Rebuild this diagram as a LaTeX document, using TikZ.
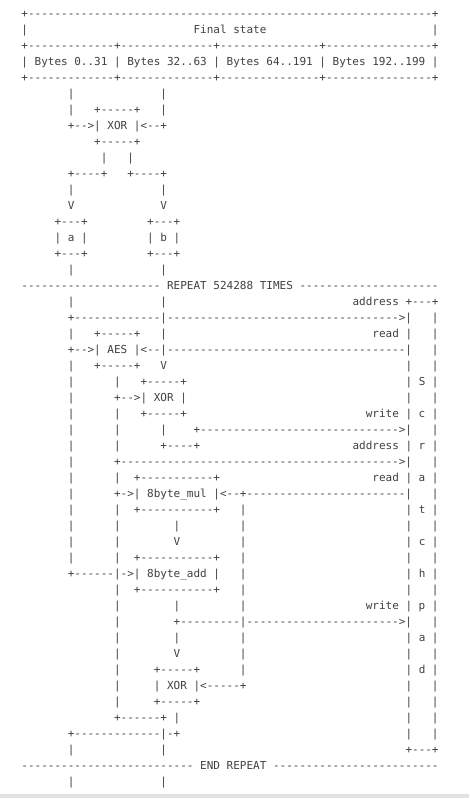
\documentclass[tikz,border=0pt]{standalone}
\usepackage{fontspec}
\setmonofont{DejaVu Sans Mono}
\usepackage{tikz}
\usepackage{xcolor}
\definecolor{asciigray}{RGB}{64, 64, 64}
\definecolor{framegray}{RGB}{226, 226, 226}

% runs of blanks and dashes, counted in characters
\newcommand{\sk}[1]{\hspace*{#1\fontdimen2\font}}
\ExplSyntaxOn
\NewDocumentCommand{\dl}{m}{\prg_replicate:nn{#1}{-}}
\ExplSyntaxOff

\tikzset{
  asciirow/.style={anchor=base west, inner sep=0pt, text=asciigray,
    font=\ttfamily\fontsize{11}{16}\selectfont\frenchspacing}
}

\begin{document}
\begin{tikzpicture}[x=1pt, y=-1pt]

  \useasboundingbox (0,0) rectangle (469,798);
  \fill[framegray] (0,794) rectangle (469,798);

  % Final state
  \node[asciirow] (r0) at (21.2,17.3) {+\dl{61}+};
  \node[asciirow] (r1) at (21.2,33.3) {|\sk{25}Final state\sk{25}|};
  \node[asciirow] (r2) at (21.2,49.3) {+\dl{13}+\dl{14}+\dl{15}+\dl{16}+};
  \node[asciirow] (r3) at (21.2,65.3) {| Bytes 0..31 | Bytes 32..63 | Bytes 64..191 | Bytes 192..199 |};
  \node[asciirow] (r4) at (21.2,81.3) {+\dl{13}+\dl{14}+\dl{15}+\dl{16}+};

  % XOR into a and b
  \node[asciirow] (r5) at (21.2,97.3) {\sk{7}|\sk{13}|};
  \node[asciirow] (r6) at (21.2,113.3) {\sk{7}|\sk{3}+\dl{5}+\sk{3}|};
  \node[asciirow] (r7) at (21.2,129.3) {\sk{7}+-->| XOR |<--+};
  \node[asciirow] (r8) at (21.2,145.3) {\sk{11}+\dl{5}+};
  \node[asciirow] (r9) at (21.2,161.3) {\sk{12}|\sk{3}|};
  \node[asciirow] (r10) at (21.2,177.3) {\sk{7}+\dl{4}+\sk{3}+\dl{4}+};
  \node[asciirow] (r11) at (21.2,193.3) {\sk{7}|\sk{13}|};
  \node[asciirow] (r12) at (21.2,209.3) {\sk{7}V\sk{13}V};
  \node[asciirow] (r13) at (21.2,225.3) {\sk{5}+---+\sk{9}+---+};
  \node[asciirow] (r14) at (21.2,241.3) {\sk{5}| a |\sk{9}| b |};
  \node[asciirow] (r15) at (21.2,257.3) {\sk{5}+---+\sk{9}+---+};
  \node[asciirow] (r16) at (21.2,273.3) {\sk{7}|\sk{13}|};

  % Loop body
  \node[asciirow] (r17) at (21.2,289.3) {\dl{21} REPEAT 524288 TIMES \dl{21}};
  \node[asciirow] (r18) at (21.2,305.3) {\sk{7}|\sk{13}|\sk{28}address +\dl{3}+};
  \node[asciirow] (r19) at (21.2,321.3) {\sk{7}+\dl{13}|\dl{35}>|\sk{3}|};
  \node[asciirow] (r20) at (21.2,337.3) {\sk{7}|\sk{3}+\dl{5}+\sk{3}|\sk{31}read |\sk{3}|};
  \node[asciirow] (r21) at (21.2,353.3) {\sk{7}+-->| AES |<--|\dl{36}|\sk{3}|};
  \node[asciirow] (r22) at (21.2,369.3) {\sk{7}|\sk{3}+\dl{5}+\sk{3}V\sk{36}|\sk{3}|};
  \node[asciirow] (r23) at (21.2,385.3) {\sk{7}|\sk{6}|\sk{3}+\dl{5}+\sk{33}| S |};
  \node[asciirow] (r24) at (21.2,401.3) {\sk{7}|\sk{6}+-->| XOR |\sk{33}|\sk{3}|};
  \node[asciirow] (r25) at (21.2,417.3) {\sk{7}|\sk{6}|\sk{3}+\dl{5}+\sk{27}write | c |};
  \node[asciirow] (r26) at (21.2,433.3) {\sk{7}|\sk{6}|\sk{6}|\sk{4}+\dl{30}>|\sk{3}|};
  \node[asciirow] (r27) at (21.2,449.3) {\sk{7}|\sk{6}|\sk{6}+\dl{4}+\sk{23}address | r |};
  \node[asciirow] (r28) at (21.2,465.3) {\sk{7}|\sk{6}+\dl{42}>|\sk{3}|};
  \node[asciirow] (r29) at (21.2,481.3) {\sk{7}|\sk{6}|\sk{2}+\dl{11}+\sk{23}read | a |};
  \node[asciirow] (r30) at (21.2,497.3) {\sk{7}|\sk{6}+->| 8byte\_mul |<--+\dl{24}|\sk{3}|};
  \node[asciirow] (r31) at (21.2,513.3) {\sk{7}|\sk{6}|\sk{2}+\dl{11}+\sk{3}|\sk{24}| t |};
  \node[asciirow] (r32) at (21.2,529.3) {\sk{7}|\sk{6}|\sk{8}|\sk{9}|\sk{24}|\sk{3}|};
  \node[asciirow] (r33) at (21.2,545.3) {\sk{7}|\sk{6}|\sk{8}V\sk{9}|\sk{24}| c |};
  \node[asciirow] (r34) at (21.2,561.3) {\sk{7}|\sk{6}|\sk{2}+\dl{11}+\sk{3}|\sk{24}|\sk{3}|};
  \node[asciirow] (r35) at (21.2,577.3) {\sk{7}+\dl{6}|->| 8byte\_add |\sk{3}|\sk{24}| h |};
  \node[asciirow] (r36) at (21.2,593.3) {\sk{14}|\sk{2}+\dl{11}+\sk{3}|\sk{24}|\sk{3}|};
  \node[asciirow] (r37) at (21.2,609.3) {\sk{14}|\sk{8}|\sk{9}|\sk{18}write | p |};
  \node[asciirow] (r38) at (21.2,625.3) {\sk{14}|\sk{8}+\dl{9}|\dl{23}>|\sk{3}|};
  \node[asciirow] (r39) at (21.2,641.3) {\sk{14}|\sk{8}|\sk{9}|\sk{24}| a |};
  \node[asciirow] (r40) at (21.2,657.3) {\sk{14}|\sk{8}V\sk{9}|\sk{24}|\sk{3}|};
  \node[asciirow] (r41) at (21.2,673.3) {\sk{14}|\sk{5}+\dl{5}+\sk{6}|\sk{24}| d |};
  \node[asciirow] (r42) at (21.2,689.3) {\sk{14}|\sk{5}| XOR |<\dl{5}+\sk{24}|\sk{3}|};
  \node[asciirow] (r43) at (21.2,705.3) {\sk{14}|\sk{5}+\dl{5}+\sk{31}|\sk{3}|};
  \node[asciirow] (r44) at (21.2,721.3) {\sk{14}+\dl{6}+ |\sk{34}|\sk{3}|};
  \node[asciirow] (r45) at (21.2,737.3) {\sk{7}+\dl{13}|-+\sk{34}|\sk{3}|};
  \node[asciirow] (r46) at (21.2,753.3) {\sk{7}|\sk{13}|\sk{36}+\dl{3}+};
  \node[asciirow] (r47) at (21.2,769.3) {\dl{26} END REPEAT \dl{25}};
  \node[asciirow] (r48) at (21.2,785.3) {\sk{7}|\sk{13}|};

\end{tikzpicture}
\end{document}
